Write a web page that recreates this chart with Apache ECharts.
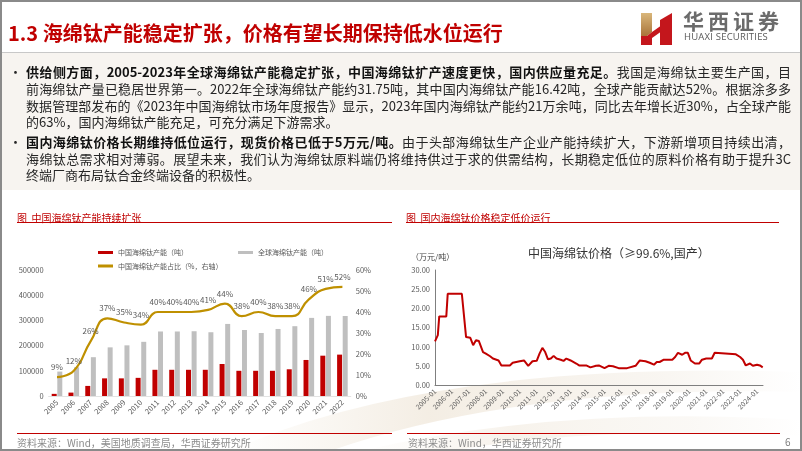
<!DOCTYPE html>
<html><head><meta charset="utf-8">
<script src="https://cdn.jsdelivr.net/npm/echarts@6/dist/echarts.min.js"></script>
<style>
html,body{margin:0;padding:0;background:#fff;}
body{width:802px;height:451px;position:relative;overflow:hidden;font-family:"Noto Sans CJK SC","Noto Sans",sans-serif;}
.abs{position:absolute;white-space:nowrap;}
#frame{position:absolute;left:0;top:0;width:798px;height:447px;border:2px solid #8a8a8a;z-index:5;pointer-events:none;}
#title{left:8px;top:21px;font-size:20px;line-height:24px;font-weight:bold;color:#C00000;}
#band{position:absolute;left:0;top:52px;width:802px;height:137px;background:#F7F4F0;border-top:1px solid #C8C8C8;}
.ln{position:absolute;left:26px;width:765px;font-size:13px;line-height:17px;color:#262626;text-align:justify;text-align-last:justify;white-space:nowrap;}
.ln.last{text-align-last:left;}
.ln b{color:#111;}
.bul{position:absolute;left:9px;font-size:13px;line-height:17px;color:#262626;}
.ctitle{font-size:10px;line-height:12px;color:#C00000;}
.rline{position:absolute;height:1px;background:#C00000;}
.foot{font-size:10px;line-height:12px;color:#8c8c8c;}
#c{position:absolute;left:0;top:0;width:802px;height:451px;z-index:2;}
.top{z-index:3;}
</style></head>
<body>
<svg style="position:absolute;left:0;top:0;z-index:0" width="802" height="451">
  <defs>
    <linearGradient id="sw" x1="0" y1="0" x2="1" y2="0">
      <stop offset="0" stop-color="#EFE6D8" stop-opacity="0"/>
      <stop offset="0.35" stop-color="#EFE6D8" stop-opacity="0.7"/>
      <stop offset="0.75" stop-color="#F2ECE3" stop-opacity="0.5"/>
      <stop offset="1" stop-color="#F2ECE3" stop-opacity="0"/>
    </linearGradient>
  </defs>
  <path d="M230 451 Q430 360 802 372 L802 392 Q520 385 330 451 Z" fill="url(#sw)"/>
  <path d="M360 451 Q560 405 802 420 L802 436 Q600 425 450 451 Z" fill="url(#sw)" opacity="0.7"/>
</svg>
<div id="band"></div>
<div id="frame"></div>

<div class="abs top" id="title">1.3 海绵钛产能稳定扩张，价格有望长期保持低水位运行</div>

<svg class="top" style="position:absolute;left:638px;top:10px;z-index:3" width="40" height="40">
  <defs><linearGradient id="gd" x1="0" y1="0" x2="0" y2="1"><stop offset="0" stop-color="#D9B67A"/><stop offset="1" stop-color="#A9743A"/></linearGradient></defs>
  <polygon points="3,3 14,3 14,22 9,26 3,26" fill="url(#gd)"/>
  <polygon points="3,26 9,26 14,22 14,35 3,35" fill="#C4161C"/>
  <polygon points="14,22 24,15 24,21 14,28" fill="#C4161C"/>
  <polygon points="22,10 34,3 34,35 22,35" fill="#C4161C"/>
</svg>
<div class="abs top" style="left:683px;top:7px;font-size:21px;line-height:26px;letter-spacing:4px;color:#6b6b6b;font-weight:bold;">华西证券</div>
<div class="abs top" style="left:684px;top:31px;font-size:9.5px;line-height:11px;letter-spacing:0.2px;color:#5a5a5a;font-family:'Open Sans','Noto Sans',sans-serif;">HUAXI SECURITIES</div>

<div class="bul top" style="top:63px">•</div>
<div class="ln top" style="top:63px"><b>供给侧方面，2005-2023年全球海绵钛产能稳定扩张，中国海绵钛扩产速度更快，国内供应量充足。</b>我国是海绵钛主要生产国，目</div>
<div class="ln top" style="top:80px">前海绵钛产量已稳居世界第一。2022年全球海绵钛产能约31.75吨，其中国内海绵钛产能16.42吨，全球产能贡献达52%。根据涂多多</div>
<div class="ln top" style="top:97px">数据管理部发布的《2023年中国海绵钛市场年度报告》显示，2023年国内海绵钛产能约21万余吨，同比去年增长近30%，占全球产能</div>
<div class="ln last top" style="top:113px">的63%，国内海绵钛产能充足，可充分满足下游需求。</div>
<div class="bul top" style="top:133px">•</div>
<div class="ln top" style="top:133px"><b>国内海绵钛价格长期维持低位运行，现货价格已低于5万元/吨。</b>由于头部海绵钛生产企业产能持续扩大，下游新增项目持续出清，</div>
<div class="ln top" style="top:150px">海绵钛总需求相对薄弱。展望未来，我们认为海绵钛原料端仍将维持供过于求的供需结构，长期稳定低位的原料价格有助于提升3C</div>
<div class="ln last top" style="top:166px">终端厂商布局钛合金终端设备的积极性。</div>

<div class="abs ctitle top" style="left:17px;top:212px;">图&nbsp;&nbsp;中国海绵钛产能持续扩张</div>
<div class="rline top" style="left:17px;top:222px;width:375px;"></div>
<div class="abs ctitle top" style="left:406px;top:212px;">图&nbsp;&nbsp;国内海绵钛价格稳定低价运行</div>
<div class="rline top" style="left:406px;top:222px;width:373px;"></div>

<div class="abs top" style="left:528px;top:246px;font-size:12px;line-height:14px;color:#333;">中国海绵钛价格（≥99.6%,国产）</div>
<div class="abs top" style="left:411px;top:252px;font-size:8px;line-height:10px;color:#404040;">（万元/吨）</div>

<div class="rline top" style="left:17px;top:433px;width:375px;"></div>
<div class="rline top" style="left:407px;top:433px;width:373px;"></div>
<div class="abs foot top" style="left:17px;top:437px;">资料来源：Wind，美国地质调查局，华西证券研究所</div>
<div class="abs foot top" style="left:408px;top:437px;">资料来源：Wind，华西证券研究所</div>
<div class="abs foot top" style="left:785px;top:436px;color:#7f7f7f;">6</div>

<div id="c"></div>
<script>
// ---- Left chart data ----
const years = ['2005','2006','2007','2008','2009','2010','2011','2012','2013','2014','2015','2016','2017','2018','2019','2020','2021','2022'];
const chinaCapacity = [8500,13500,40000,70000,70000,72000,104000,104000,104000,104000,127000,100000,100000,100000,106000,143000,160000,164200];
const globalCapacity = [97000,114000,154000,193000,201000,215000,256000,256000,257000,253000,286000,262000,250000,266000,277000,310000,318000,317500];
const chinaShare = [9,12,26,37,35,34,40,40,40,41,44,38,40,38,38,46,51,52];
const leftTicks = [0,100000,200000,300000,400000,500000];
const rightTicks = ['0%','10%','20%','30%','40%','50%','60%'];

// ---- Right chart data (万元/吨) ----
const priceDates = ['2005-01','2005-03','2005-04','2005-09','2005-10','2006-08','2006-11','2007-02','2007-04','2007-06','2007-08','2007-11','2008-01','2008-04','2008-06','2008-10','2008-12','2009-06','2009-08','2010-01','2010-04','2010-07','2010-10','2011-01','2011-03','2011-05','2011-07','2011-09','2011-11','2012-01','2012-03','2012-06','2012-08','2012-10','2013-01','2013-05','2013-07','2013-12','2014-03','2014-07','2014-09','2015-01','2015-04','2015-07','2015-11','2016-05','2016-11','2017-02','2017-06','2017-09','2017-12','2018-02','2018-04','2018-07','2019-01','2019-03','2019-05','2019-08','2019-10','2019-12','2020-02','2020-05','2020-08','2020-10','2021-01','2021-05','2021-07','2021-08','2022-10','2023-01','2023-03','2023-05','2023-08','2023-10','2024-01','2024-03','2024-05'];
const priceValues = [11.4,13.0,17.9,17.9,23.8,23.8,12.5,12.3,10.4,11.7,11.5,8.6,8.2,7.5,6.9,6.4,5.1,5.1,5.8,6.2,6.4,5.0,6.2,6.3,8.2,9.7,8.6,6.7,6.9,7.6,6.9,6.6,6.3,6.9,6.4,5.6,5.1,5.1,4.6,5.0,5.1,4.4,5.0,4.9,4.4,4.4,5.0,6.4,6.2,5.8,5.3,6.0,6.0,6.6,6.6,7.3,8.4,7.9,8.4,8.4,6.4,5.6,5.6,6.6,6.9,6.9,8.4,8.0,8.0,7.3,6.6,5.1,5.6,5.0,5.3,5.1,4.6];

const toYearFrac = s => { const p = s.split('-'); return (+p[0]) + (+p[1] - 1) / 12; };
const priceData = priceDates.map((d, i) => [toYearFrac(d), priceValues[i]]);

const lblColor = '#595959';
const ff = '"Noto Sans CJK SC","Noto Sans",sans-serif';
const chart = echarts.init(document.getElementById('c'), null, {renderer: 'canvas'});
chart.setOption({
  animation: false,
  textStyle: {fontFamily: ff},
  legend: [
    {left: 93, top: 244, icon: 'rect', itemWidth: 15, itemHeight: 3, itemGap: 50,
     textStyle: {fontSize: 7, color: lblColor}, data: ['中国海绵钛产能（吨）', '全球海绵钛产能（吨）']},
    {left: 93, top: 257.5, icon: 'rect', itemWidth: 15, itemHeight: 3,
     textStyle: {fontSize: 7, color: lblColor}, data: ['中国海绵钛产能占比（%，右轴）']}
  ],
  grid: [
    {left: 48.6, width: 302.2, top: 270, height: 126},
    {left: 435, width: 328, top: 270, height: 115}
  ],
  xAxis: [
    {type: 'category', gridIndex: 0, data: years,
     axisLine: {show: true, lineStyle: {color: '#E3E3E3'}}, axisTick: {show: false},
     axisLabel: {interval: 0, rotate: 45, fontSize: 7.5, color: lblColor, margin: 5}},
    {type: 'value', gridIndex: 1, min: 2005, max: 2024.35, interval: 1,
     splitLine: {show: false}, axisTick: {show: false},
     axisLine: {show: true, onZero: false, lineStyle: {color: '#7f7f7f', width: 1}},
     axisLabel: {rotate: 45, fontSize: 7, color: lblColor, margin: 5, showMaxLabel: false, showMinLabel: true,
       formatter: v => Math.abs(v - Math.round(v)) < 1e-6 ? Math.round(v) + '-01' : ''}}
  ],
  yAxis: [
    {type: 'value', gridIndex: 0, min: leftTicks[0], max: leftTicks[leftTicks.length - 1], interval: 100000,
     splitLine: {show: false}, axisLine: {show: false}, axisTick: {show: false},
     axisLabel: {fontSize: 7.5, color: lblColor, margin: 5, formatter: v => String(v)}},
    {type: 'value', gridIndex: 0, min: 0, max: 60, interval: 10, position: 'right',
     splitLine: {show: false}, axisLine: {show: false}, axisTick: {show: false},
     axisLabel: {fontSize: 7.5, color: lblColor, margin: 5, formatter: v => rightTicks[Math.round(v / 10)]}},
    {type: 'value', gridIndex: 1, min: 0, max: 30, interval: 5,
     splitLine: {show: false}, axisTick: {show: false},
     axisLine: {show: true, lineStyle: {color: '#7f7f7f', width: 1}},
     axisLabel: {fontSize: 7.5, color: lblColor, margin: 5, formatter: v => v.toFixed(2)}}
  ],
  series: [
    {name: '中国海绵钛产能（吨）', type: 'bar', xAxisIndex: 0, yAxisIndex: 0, data: chinaCapacity,
     barWidth: 5, barGap: '12%', itemStyle: {color: '#C00000'}},
    {name: '全球海绵钛产能（吨）', type: 'bar', xAxisIndex: 0, yAxisIndex: 0, data: globalCapacity,
     barWidth: 5, barGap: '12%', itemStyle: {color: '#BFBFBF'}},
    {name: '中国海绵钛产能占比（%，右轴）', type: 'line', xAxisIndex: 0, yAxisIndex: 1, data: chinaShare,
     smooth: true, showSymbol: true, symbol: 'circle', symbolSize: 0.1, showAllSymbol: true,
     lineStyle: {color: '#BF9000', width: 2.2}, itemStyle: {color: '#BF9000'},
     label: {show: true, position: 'top', fontSize: 8, color: lblColor, distance: 6, formatter: p => p.value + '%'}},
    {name: '价格', type: 'line', xAxisIndex: 1, yAxisIndex: 2, data: priceData,
     showSymbol: false, symbol: 'none', lineStyle: {color: '#C00000', width: 2}, itemStyle: {color: '#C00000'}}
  ]
});
</script>
</body></html>
